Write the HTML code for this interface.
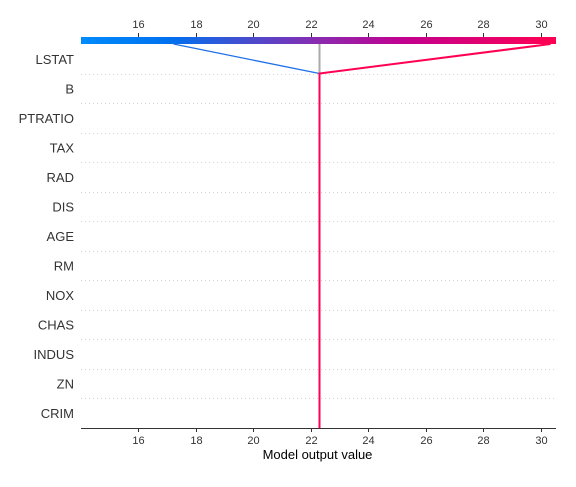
<!DOCTYPE html>
<html><head><meta charset="utf-8"><style>
body{margin:0;background:#fff;font-family:"Liberation Sans",sans-serif}
svg text{font-family:"Liberation Sans",sans-serif}
</style></head><body>
<svg id="c" width="576" height="482" xmlns="http://www.w3.org/2000/svg">
<defs><linearGradient id="g" x1="0" x2="1">
<stop offset="0" stop-color="#008bfb"/><stop offset="0.19" stop-color="#0070ee"/>
<stop offset="0.5" stop-color="#8a2bb0"/><stop offset="0.68" stop-color="#c2008f"/>
<stop offset="1" stop-color="#ff0052"/></linearGradient></defs>
<g id="plot"></g>
</svg>
<script>
const features=["LSTAT","B","PTRATIO","TAX","RAD","DIS","AGE","RM","NOX","CHAS","INDUS","ZN","CRIM"];
const ticks=[16,18,20,22,24,26,28,30];
const baseValue=22.3;
const sampleBlue=[17.2,22.3,22.3,22.3,22.3,22.3,22.3,22.3,22.3,22.3,22.3,22.3,22.3];
const sampleRed=[30.31,22.3,22.3,22.3,22.3,22.3,22.3,22.3,22.3,22.3,22.3,22.3,22.3];
const NS="http://www.w3.org/2000/svg";
const g=document.getElementById('plot');
const L=81,R=556,T=44,B=428,x0=14.02,x1=30.52;
const rowH=(B-T)/features.length;
const X=v=>Math.round(L+(v-x0)/(x1-x0)*(R-L))+0.5;
const Yrow=i=>T+rowH*(i+0.5);
function mk(t,a,p){const e=document.createElementNS(NS,t);for(const k in a)e.setAttribute(k,a[k]);(p||g).appendChild(e);return e;}
features.forEach((f,i)=>{
 const y=Math.round(T+rowH*(i+1))+0.5;
 const l=mk('line',{x1:L,x2:R,y1:y,y2:y,stroke:'#d4d4d4','stroke-dasharray':'1,3','stroke-width':1});
 
 
 const t=mk('text',{x:74,y:Yrow(i)+5,'text-anchor':'end','font-size':13,fill:'#333'});
 t.textContent=f;
 
 
});
const cb=mk('rect',{x:L,y:37,width:R-L,height:7,fill:'url(#g)'});


const ax=mk('line',{x1:L,x2:R,y1:B+0.5,y2:B+0.5,stroke:'#333','stroke-width':1});


ticks.forEach(v=>{
 mk('line',{x1:X(v),x2:X(v),y1:B,y2:B+4,stroke:'#333'});
 const t=mk('text',{x:X(v),y:B+16,'text-anchor':'middle','font-size':11,fill:'#333'});
 t.textContent=v;
 
 
 mk('line',{x1:X(v),x2:X(v),y1:37,y2:33,stroke:'#333'});
 const t2=mk('text',{x:X(v),y:28,'text-anchor':'middle','font-size':11,fill:'#333'});
 t2.textContent=v;
 
 
});
const xt=mk('text',{x:(L+R)/2-1,y:459,'text-anchor':'middle','font-size':13,fill:'#000'});
xt.textContent='Model output value';


const bl=mk('line',{x1:X(baseValue),x2:X(baseValue),y1:T,y2:T+rowH,stroke:'#aaa','stroke-width':2});


function path(vals,color,name,w){
 let d='M'+X(baseValue)+','+B;
 for(let i=features.length-1;i>=0;i--)d+=' L'+X(vals[i])+','+(i===0?T:T+rowH*i);
 const p=mk('path',{d:d,fill:'none',stroke:color,'stroke-width':w});
 
 
}
path(sampleBlue,'#1e6fe8','decision-line-low',1.3);
path(sampleRed,'#ff0052','decision-line-high',2);
</script>
</body></html>
